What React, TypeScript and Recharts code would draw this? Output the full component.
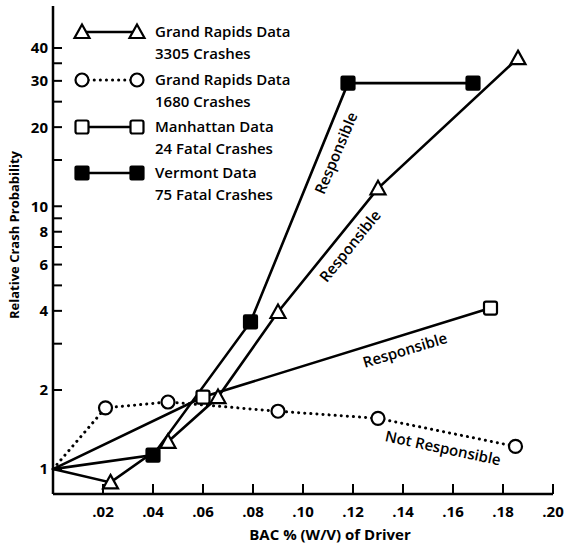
import { Line, LineChart, XAxis, YAxis } from "recharts";

const FONT = "'Open Sans', 'DejaVu Sans', sans-serif";

const BAC_TICKS = [0.02, 0.04, 0.06, 0.08, 0.1, 0.12, 0.14, 0.16, 0.18, 0.2];
const PROB_TICKS = [1, 2, 3, 4, 5, 6, 7, 8, 9, 10, 15, 20, 25, 30, 35, 40];
const PROB_LABELED = [1, 2, 4, 6, 8, 10, 20, 30, 40];

// Grand Rapids, 3305 crashes (open triangles)
const gr3305Bac = [0, 0.023, 0.046, 0.066, 0.09, 0.13, 0.186];
const gr3305Prob = [1.0, 0.89, 1.27, 1.88, 3.96, 11.7, 36.6];

// Grand Rapids, 1680 crashes (open circles, dotted)
const gr1680Bac = [0, 0.021, 0.046, 0.09, 0.13, 0.185];
const gr1680Prob = [1.0, 1.71, 1.8, 1.66, 1.56, 1.22];

// Manhattan, 24 fatal crashes (open squares)
const manhattanBac = [0, 0.06, 0.175];
const manhattanProb = [1.0, 1.88, 4.1];

// Vermont, 75 fatal crashes (filled squares)
const vermontBac = [0, 0.04, 0.079, 0.118, 0.168];
const vermontProb = [1.0, 1.13, 3.63, 29.4, 29.4];

const toRows = (xs: number[], ys: number[]) => xs.map((x, i) => ({ x, y: ys[i] }));

type Marker = "triangle" | "circle" | "square" | "filled";

const drawMarker = (kind: Marker, cx: number, cy: number, key?: string | number) => {
  const common = { stroke: "#000", strokeWidth: 2.2 };
  if (kind === "triangle") {
    const s = 7.5;
    return (
      <polygon
        key={key}
        points={`${cx},${cy - s} ${cx + s},${cy + s * 0.8} ${cx - s},${cy + s * 0.8}`}
        fill="#fff"
        {...common}
      />
    );
  }
  if (kind === "circle") {
    return <circle key={key} cx={cx} cy={cy} r={6.5} fill="#fff" {...common} />;
  }
  return (
    <rect
      key={key}
      x={cx - 6.5}
      y={cy - 6.5}
      width={13}
      height={13}
      rx={kind === "square" ? 2 : 1}
      fill={kind === "filled" ? "#000" : "#fff"}
      {...common}
    />
  );
};

const markerDot = (kind: Marker) => (props: any) => {
  const { cx, cy, index } = props;
  if (index === 0 || cx == null || cy == null) return <g key={`e-${index}`} />;
  return drawMarker(kind, cx, cy, `${kind}-${index}`);
};

const BacTick = (props: any) => {
  const { x, y, payload } = props;
  const label = payload.value.toFixed(2).replace(/^0/, "");
  return (
    <g>
      <line x1={x} x2={x} y1={y} y2={y - 10} stroke="#000" strokeWidth={2} />
      <text
        x={x}
        y={y + 23}
        textAnchor="middle"
        fontFamily={FONT}
        fontWeight={700}
        fontSize={15}
        fill="#000"
      >
        {label}
      </text>
    </g>
  );
};

const ProbTick = (props: any) => {
  const { x, y, payload } = props;
  const labeled = PROB_LABELED.includes(payload.value);
  return (
    <g>
      <line x1={x} x2={x + 9} y1={y} y2={y} stroke="#000" strokeWidth={2} />
      {labeled ? (
        <text
          x={x - 5}
          y={y}
          dy="0.36em"
          textAnchor="end"
          fontFamily={FONT}
          fontWeight={700}
          fontSize={15}
          fill="#000"
        >
          {payload.value}
        </text>
      ) : null}
    </g>
  );
};

const LEGEND: { kind: Marker; dotted?: boolean; lines: string[] }[] = [
  { kind: "triangle", lines: ["Grand Rapids Data", "3305 Crashes"] },
  { kind: "circle", dotted: true, lines: ["Grand Rapids Data", "1680 Crashes"] },
  { kind: "square", lines: ["Manhattan Data", "24 Fatal Crashes"] },
  { kind: "filled", lines: ["Vermont Data", "75 Fatal Crashes"] },
];

const LEGEND_ROWS = [32, 80, 127, 173];

const ANNOTATIONS = [
  { text: "Responsible", x: 336, y: 153, angle: -67 },
  { text: "Responsible", x: 350, y: 246, angle: -51 },
  { text: "Responsible", x: 405, y: 350, angle: -17 },
  { text: "Not Responsible", x: 443, y: 448, angle: 12 },
];

const lineStyle = { stroke: "#000", strokeWidth: 2.6 };

export default function App() {
  return (
    <div
      style={{
        position: "absolute",
        left: 0,
        top: 0,
        width: 564,
        height: 549,
        background: "#fff",
        fontFamily: FONT,
      }}
    >
      <LineChart width={564} height={549} margin={{ top: 6, right: 11, bottom: 0, left: 8 }}>
        <XAxis
          dataKey="x"
          type="number"
          domain={[0, 0.2]}
          ticks={BAC_TICKS}
          tick={<BacTick />}
          tickLine={false}
          tickSize={0}
          tickMargin={0}
          height={55}
          axisLine={{ stroke: "#000", strokeWidth: 2.5 }}
          interval={0}
        />
        <XAxis
          xAxisId="top"
          orientation="top"
          type="number"
          domain={[0, 0.2]}
          height={0}
          tick={false}
          tickLine={false}
          axisLine={{ stroke: "#000", strokeWidth: 2.5 }}
        />
        <YAxis
          type="number"
          scale="log"
          domain={[0.804, 57.8]}
          allowDataOverflow
          ticks={PROB_TICKS}
          tick={<ProbTick />}
          tickLine={false}
          tickSize={0}
          tickMargin={0}
          width={45}
          interval={0}
          axisLine={{ stroke: "#000", strokeWidth: 2.5 }}
        />
        <YAxis
          yAxisId="right"
          orientation="right"
          type="number"
          scale="log"
          domain={[0.804, 57.8]}
          allowDataOverflow
          width={0}
          tick={false}
          tickLine={false}
          axisLine={{ stroke: "#000", strokeWidth: 2.5 }}
        />
        <Line
          data={toRows(gr1680Bac, gr1680Prob)}
          dataKey="y"
          type="linear"
          {...lineStyle}
          strokeWidth={3}
          strokeDasharray="0.1 6"
          strokeLinecap="round"
          dot={markerDot("circle")}
          activeDot={false}
          isAnimationActive={false}
        />
        <Line
          data={toRows(manhattanBac, manhattanProb)}
          dataKey="y"
          type="linear"
          {...lineStyle}
          dot={markerDot("square")}
          activeDot={false}
          isAnimationActive={false}
        />
        <Line
          data={toRows(vermontBac, vermontProb)}
          dataKey="y"
          type="linear"
          {...lineStyle}
          dot={markerDot("filled")}
          activeDot={false}
          isAnimationActive={false}
        />
        <Line
          data={toRows(gr3305Bac, gr3305Prob)}
          dataKey="y"
          type="linear"
          {...lineStyle}
          dot={markerDot("triangle")}
          activeDot={false}
          isAnimationActive={false}
        />
      </LineChart>

      <svg
        width={564}
        height={549}
        style={{ position: "absolute", left: 0, top: 0, pointerEvents: "none" }}
      >
        {LEGEND.map((item, i) => {
          const y = LEGEND_ROWS[i];
          return (
            <g key={item.lines[0] + i}>
              <line
                x1={82}
                x2={137}
                y1={y}
                y2={y}
                stroke="#000"
                strokeWidth={item.dotted ? 3 : 2.6}
                strokeDasharray={item.dotted ? "0.1 6" : undefined}
                strokeLinecap={item.dotted ? "round" : "butt"}
              />
              {drawMarker(item.kind, 82, y)}
              {drawMarker(item.kind, 137, y)}
              {item.lines.map((t, j) => (
                <text
                  key={t}
                  x={155}
                  y={y + j * 22}
                  dy="0.36em"
                  fontFamily={FONT}
                  fontWeight={600}
                  fontSize={15}
                  fill="#000"
                >
                  {t}
                </text>
              ))}
            </g>
          );
        })}

        {ANNOTATIONS.map((a, i) => (
          <text
            key={i}
            x={a.x}
            y={a.y}
            dy="0.36em"
            textAnchor="middle"
            fontFamily={FONT}
            fontWeight={600}
            fontSize={15}
            fill="#000"
            transform={`rotate(${a.angle} ${a.x} ${a.y})`}
          >
            {a.text}
          </text>
        ))}

        <text
          x={330}
          y={535}
          dy="0.36em"
          textAnchor="middle"
          fontFamily={FONT}
          fontWeight={700}
          fontSize={15}
          fill="#000"
        >
          BAC % (W/V) of Driver
        </text>
        <text
          x={14}
          y={235}
          dy="0.36em"
          textAnchor="middle"
          fontFamily={FONT}
          fontWeight={700}
          fontSize={13}
          fill="#000"
          transform={`rotate(-90 14 235)`}
        >
          Relative Crash Probability
        </text>
      </svg>
    </div>
  );
}
